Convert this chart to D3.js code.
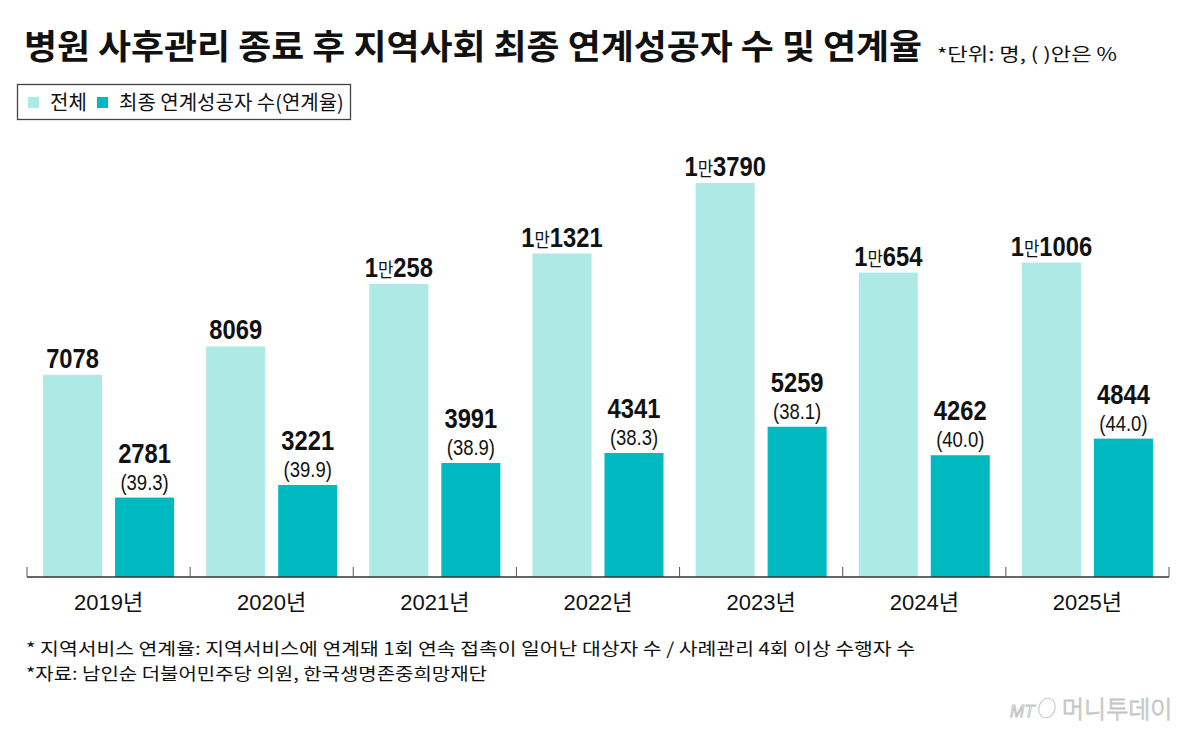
<!DOCTYPE html>
<html>
<head>
<meta charset="utf-8">
<script src="https://cdn.jsdelivr.net/npm/d3@7"></script>
<style>
    body { margin: 0; background: #fff; }
    svg { display: block; }
</style>
</head>
<body>
<div id="container"></div>
<script>
// 데이터
const years = ["2019년", "2020년", "2021년", "2022년", "2023년", "2024년", "2025년"];
const totals = [7078, 8069, 10258, 11321, 13790, 10654, 11006];
const linked = [2781, 3221, 3991, 4341, 5259, 4262, 4844];
const rates = [39.3, 39.9, 38.9, 38.3, 38.1, 40.0, 44.0];
const seriesNames = ["전체", "최종 연계성공자 수(연계율)"];
const notes = [
    "* 지역서비스 연계율: 지역서비스에 연계돼 1회 연속 접촉이 일어난 대상자 수 / 사례관리 4회 이상 수행자 수",
    "*자료: 남인순 더불어민주당 의원, 한국생명존중희망재단"
];
// 주석 줄 길이
const noteLengths = [889, 461];

const WIDTH = 1200;
const HEIGHT = 736;
const COLOR_LIGHT = "#ade9e5";
const COLOR_DARK = "#00b9c1";
const KR = "'Noto Sans CJK KR', 'Noto Sans', sans-serif";
const NUM = "'Liberation Sans', Arial, 'Noto Sans CJK KR', sans-serif";

// 축 위치
const AXIS_Y = 577;
const AXIS_X1 = 27, AXIS_X2 = 1169;

let svg = d3.select("#container").append("svg")
    .attr("width", WIDTH)
    .attr("height", HEIGHT);

// scales
let x0 = d3.scaleBand().domain(years).range([AXIS_X1, AXIS_X2]).padding(0);
let x1 = d3.scaleBand().domain(["total", "linked"])
    .range([0, x0.bandwidth()])
    .paddingInner(0.18)
    .paddingOuter(0.223);
let y = d3.scaleLinear().domain([0, 14000]).range([AXIS_Y, AXIS_Y - 400]);

let rows = years.map((yr, i) => ({ yr, total: totals[i], linked: linked[i], rate: rates[i] }));

main();

function main() {
    drawTitle();
    drawLegend();
    drawBars();
    drawAxis();
    drawNotes();
    drawLogo();
}

// 제목
function drawTitle() {
    svg.append("text")
        .attr("x", 24)
        .attr("y", 59)
        .attr("textLength", 898)
        .attr("lengthAdjust", "spacingAndGlyphs")
        .style("font-family", KR)
        .style("font-weight", 700)
        .style("font-size", "34px")
        .style("fill", "#111")
        .text("병원 사후관리 종료 후 지역사회 최종 연계성공자 수 및 연계율");
    svg.append("text")
        .attr("x", 937)
        .attr("y", 61)
        .attr("textLength", 180)
        .attr("lengthAdjust", "spacingAndGlyphs")
        .style("font-family", KR)
        .style("font-size", "18px")
        .style("fill", "#111")
        .text("*단위: 명,  (   )안은 %");
}

// 범례
function drawLegend() {
    svg.append("rect")
        .attr("x", 17.5).attr("y", 84.5)
        .attr("width", 333).attr("height", 35)
        .attr("fill", "#fff")
        .attr("stroke", "#444")
        .attr("stroke-width", 1.3);
    let pos = [28, 97];
    let tx = [50, 119];
    let colors = [COLOR_LIGHT, COLOR_DARK];
    seriesNames.forEach((name, i) => {
        svg.append("rect")
            .attr("x", pos[i]).attr("y", 97)
            .attr("width", 11).attr("height", 11)
            .attr("fill", colors[i]);
        svg.append("text")
            .attr("x", tx[i]).attr("y", 110)
            .style("font-family", KR)
            .style("font-size", "20px")
            .style("fill", "#111")
            .text(name);
    });
}

// 막대
function drawBars() {
    let g = svg.append("g").selectAll("g")
        .data(rows)
        .enter()
        .append("g")
        .attr("transform", (d) => "translate(" + x0(d.yr) + ",0)");

    g.append("rect")
        .attr("x", x1("total"))
        .attr("y", (d) => y(d.total))
        .attr("width", x1.bandwidth())
        .attr("height", (d) => AXIS_Y - y(d.total))
        .attr("fill", COLOR_LIGHT);

    g.append("rect")
        .attr("x", x1("linked"))
        .attr("y", (d) => y(d.linked))
        .attr("width", x1.bandwidth())
        .attr("height", (d) => AXIS_Y - y(d.linked))
        .attr("fill", COLOR_DARK);

    // 전체 값 (1만 표기)
    let tl = g.append("text")
        .attr("text-anchor", "middle")
        .attr("transform", (d) => "translate(" + (x1("total") + x1.bandwidth() / 2) + "," + (y(d.total) - 7) + ") scale(0.88,1)")
        .style("font-family", NUM)
        .style("font-weight", 700)
        .style("font-size", "27px")
        .style("fill", "#111");
    tl.each(function (d) {
        let t = d3.select(this);
        if (d.total >= 10000) {
            t.append("tspan").text(Math.floor(d.total / 10000));
            t.append("tspan")
                .style("font-family", KR)
                .style("font-weight", 400)
                .style("font-size", "19px")
                .text("만");
            t.append("tspan").text(d.total % 10000);
        } else {
            t.text(d.total);
        }
    });

    // 연계 성공자 수
    g.append("text")
        .attr("text-anchor", "middle")
        .attr("transform", (d) => "translate(" + (x1("linked") + x1.bandwidth() / 2) + "," + (y(d.linked) - 35) + ") scale(0.88,1)")
        .style("font-family", NUM)
        .style("font-weight", 700)
        .style("font-size", "27px")
        .style("fill", "#111")
        .text((d) => d.linked);

    // 연계율
    g.append("text")
        .attr("text-anchor", "middle")
        .attr("transform", (d) => "translate(" + (x1("linked") + x1.bandwidth() / 2) + "," + (y(d.linked) - 8) + ") scale(0.84,1)")
        .style("font-family", NUM)
        .style("font-size", "22px")
        .style("fill", "#111")
        .text((d) => "(" + d.rate.toFixed(1) + ")");
}

// x축
function drawAxis() {
    let ax = svg.append("g");
    ax.append("line")
        .attr("x1", AXIS_X1).attr("x2", AXIS_X2)
        .attr("y1", AXIS_Y).attr("y2", AXIS_Y)
        .attr("stroke", "#333")
        .attr("stroke-width", 1.5);
    let ticks = years.map((d) => x0(d)).concat([AXIS_X2]);
    ax.selectAll("line.tick")
        .data(ticks)
        .enter()
        .append("line")
        .attr("class", "tick")
        .attr("x1", (d) => d).attr("x2", (d) => d)
        .attr("y1", AXIS_Y - 10).attr("y2", AXIS_Y)
        .attr("stroke", "#555")
        .attr("stroke-width", 1);
    ax.selectAll("text")
        .data(years)
        .enter()
        .append("text")
        .attr("x", (d) => x0(d) + x0.bandwidth() / 2)
        .attr("y", 610)
        .attr("text-anchor", "middle")
        .style("font-family", NUM)
        .style("font-size", "22px")
        .style("fill", "#111")
        .text((d) => d);
}

// 주석
function drawNotes() {
    svg.selectAll("text.note")
        .data(notes)
        .enter()
        .append("text")
        .attr("class", "note")
        .attr("x", 26)
        .attr("y", (d, i) => 655 + i * 25)
        .attr("textLength", (d, i) => noteLengths[i])
        .attr("lengthAdjust", "spacingAndGlyphs")
        .style("font-family", KR)
        .style("font-size", "17px")
        .style("fill", "#111")
        .text((d) => d);
}

// 로고
function drawLogo() {
    let lg = svg.append("g").attr("fill", "#fff").attr("stroke", "#c4c4c4").attr("stroke-width", 1);
    lg.append("text")
        .attr("x", 1010).attr("y", 717)
        .style("font-family", NUM)
        .style("font-style", "italic")
        .style("font-size", "17px")
        .text("MT");
    lg.append("ellipse")
        .attr("cx", 1047).attr("cy", 708)
        .attr("rx", 8).attr("ry", 10)
        .attr("fill", "none")
        .attr("transform", "rotate(20,1047,708)");
    lg.append("text")
        .attr("x", 1062).attr("y", 718)
        .style("font-family", KR)
        .style("font-weight", 300)
        .style("font-size", "24px")
        .text("머니투데이");
}
</script>
</body>
</html>
